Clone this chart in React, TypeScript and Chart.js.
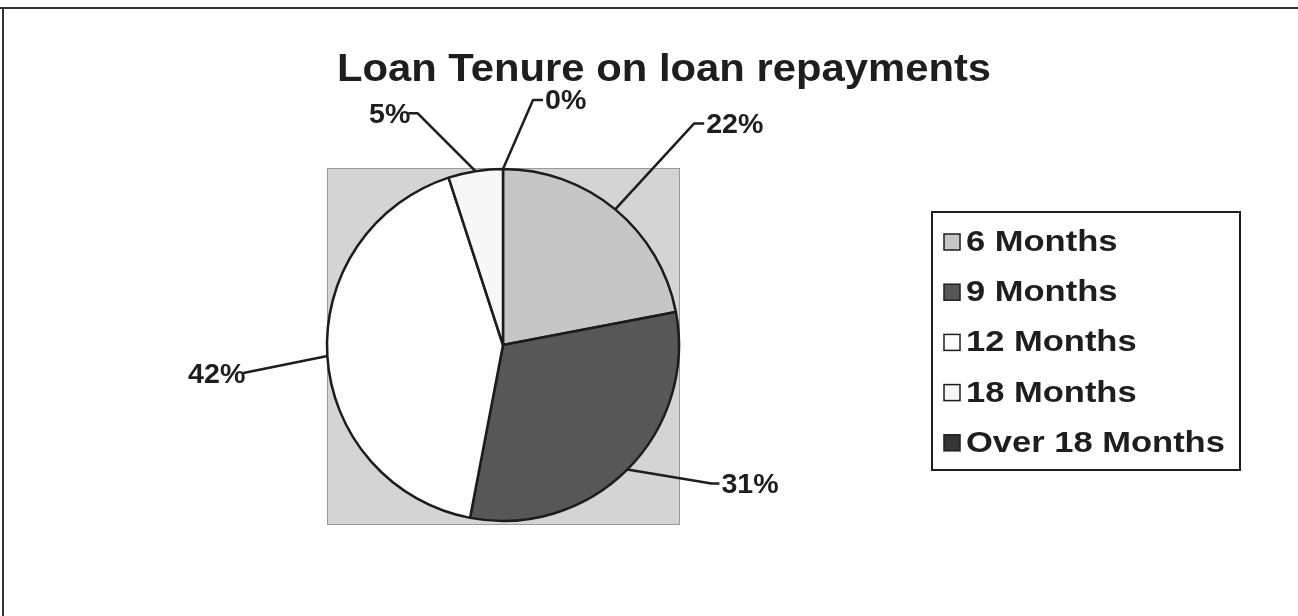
import React, { useEffect, useRef } from "react";
import { Chart, registerables } from "chart.js";

Chart.register(...registerables);

const titleText = "Loan Tenure on loan repayments";
const categories = ["6 Months", "9 Months", "12 Months", "18 Months", "Over 18 Months"];
const percentValues = [22, 31, 42, 5, 0];
const sliceColors = ["#c6c6c6", "#575757", "#fdfdfd", "#f7f7f7", "#343434"];

// Leader elbow offsets (relative to arc edge point), stub length and label side
const leaderStyle = [
  { dx: 79, dy: -86, stub: 10, side: "right" },
  { dx: 84, dy: 14, stub: 8, side: "right" },
  { dx: -84, dy: 17, stub: 0, side: "left" },
  { dx: -58, dy: -58, stub: 9, side: "left" },
  { dx: 30, dy: -69, stub: 10, side: "right" },
];

const FONT = '"Liberation Sans", Arial, sans-serif';
const INK = "#1e1e1e";

function drawStretched(
  ctx: CanvasRenderingContext2D,
  text: string,
  x: number,
  y: number,
  size: number,
  sx: number,
  align: "left" | "right" | "center"
) {
  ctx.save();
  ctx.font = `bold ${size}px ${FONT}`;
  ctx.textBaseline = "middle";
  ctx.fillStyle = INK;
  const w = ctx.measureText(text).width * sx;
  let left = x;
  if (align === "right") left = x - w;
  if (align === "center") left = x - w / 2;
  ctx.translate(left, y);
  ctx.scale(sx, 1);
  ctx.textAlign = "left";
  ctx.fillText(text, 0, 0);
  ctx.restore();
}

const decorPlugin = {
  id: "decor",
  beforeDatasetsDraw(chart: any) {
    const { ctx, chartArea } = chart;
    ctx.save();
    // outer frame
    ctx.strokeStyle = "#333";
    ctx.lineWidth = 2;
    ctx.beginPath();
    ctx.moveTo(0, 8);
    ctx.lineTo(1298, 8);
    ctx.moveTo(3, 8);
    ctx.lineTo(3, 616);
    ctx.stroke();
    // plot area
    ctx.fillStyle = "#d4d4d4";
    ctx.fillRect(chartArea.left, chartArea.top - 1, chartArea.right - chartArea.left + 1, chartArea.bottom - chartArea.top + 5);
    ctx.strokeStyle = "#9a9a9a";
    ctx.lineWidth = 1;
    ctx.strokeRect(chartArea.left + 0.5, chartArea.top - 0.5, chartArea.right - chartArea.left, chartArea.bottom - chartArea.top + 4);
    ctx.restore();
  },
  afterDraw(chart: any) {
    const { ctx } = chart;
    // title
    drawStretched(ctx, titleText, 664, 71, 38, 1.1, "center");

    // data labels with leader lines
    const meta = chart.getDatasetMeta(0);
    meta.data.forEach((arc: any, i: number) => {
      const p = arc.getProps(["x", "y", "startAngle", "endAngle", "outerRadius"], true);
      const mid = (p.startAngle + p.endAngle) / 2;
      const ex = p.x + Math.cos(mid) * p.outerRadius;
      const ey = p.y + Math.sin(mid) * p.outerRadius;
      const st = leaderStyle[i];
      const bx = ex + st.dx;
      const by = ey + st.dy;
      const stub = st.side === "right" ? st.stub : -st.stub;
      ctx.save();
      ctx.strokeStyle = INK;
      ctx.lineWidth = 2.5;
      ctx.lineJoin = "round";
      ctx.beginPath();
      ctx.moveTo(ex, ey);
      ctx.lineTo(bx, by);
      ctx.lineTo(bx + stub, by);
      ctx.stroke();
      ctx.restore();
      const label = `${percentValues[i]}%`;
      if (st.side === "right") drawStretched(ctx, label, bx + stub + 2, by + 2, 27, 1.06, "left");
      else drawStretched(ctx, label, bx + stub + 2, by + 2, 27, 1.06, "right");
    });

    // legend
    ctx.save();
    ctx.fillStyle = "#ffffff";
    ctx.fillRect(932, 212, 308, 258);
    ctx.strokeStyle = INK;
    ctx.lineWidth = 2;
    ctx.strokeRect(932, 212, 308, 258);
    ctx.restore();
    categories.forEach((c, i) => {
      const cy = 242 + i * 50.2;
      ctx.save();
      ctx.fillStyle = sliceColors[i];
      ctx.fillRect(944, cy - 8, 16, 16);
      ctx.strokeStyle = INK;
      ctx.lineWidth = 1.5;
      ctx.strokeRect(944, cy - 8, 16, 16);
      ctx.restore();
      drawStretched(ctx, c, 966, cy + 1, 29, 1.19, "left");
    });
  },
};

export default function App() {
  const ref = useRef<HTMLCanvasElement | null>(null);
  useEffect(() => {
    if (!ref.current) return;
    const chart = new Chart(ref.current, {
      type: "pie",
      data: {
        labels: categories,
        datasets: [
          {
            data: percentValues,
            backgroundColor: sliceColors,
            borderColor: "#1c1c1c",
            borderWidth: 2.5,
          },
        ],
      },
      options: {
        responsive: false,
        animation: false,
        radius: 176,
        layout: { padding: { left: 327, right: 619, top: 169, bottom: 95 } },
        plugins: {
          legend: { display: false },
          tooltip: { enabled: false },
          title: { display: false },
        },
      } as any,
      plugins: [decorPlugin],
    });
    return () => chart.destroy();
  }, []);
  return (
    <div style={{ position: "fixed", left: 0, top: 0, width: 1298, height: 616, background: "#fff" }}>
      <canvas ref={ref} width={1298} height={616} style={{ width: 1298, height: 616, display: "block" }} />
    </div>
  );
}
